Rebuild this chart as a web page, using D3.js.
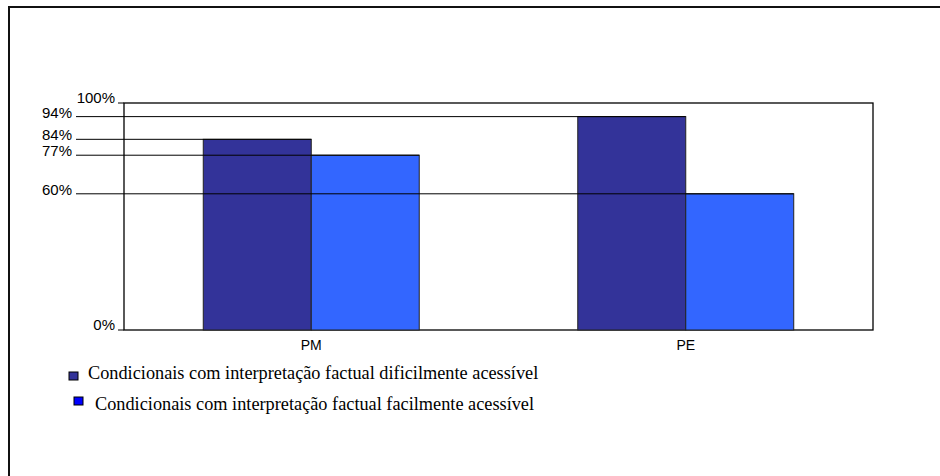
<!DOCTYPE html>
<html>
<head>
<meta charset="utf-8">
<script src="https://cdn.jsdelivr.net/npm/d3@7"></script>
<style>
  body { margin: 0; background: #fff; }
  svg { display: block; }
</style>
</head>
<body>
<svg class="chart"></svg>
<script>
var categories = ['PM', 'PE'];
var seriesNames = ['Condicionais com interpretação factual dificilmente acessível',
                   'Condicionais com interpretação factual facilmente acessível'];
var dificil = [84, 94];
var facil = [77, 60];
var tickValues = [0, 60, 77, 84, 94, 100];

var barColors = ['#333399', '#3366ff'];
var legendColors = ['#333399', '#0000ff'];

var svg = d3.select('.chart')
            .attr('width', 940)
            .attr('height', 476);

// outer frame (top and left only)
svg.append('line').attr('x1', 9).attr('x2', 940).attr('y1', 7).attr('y2', 7)
   .attr('stroke', '#111').attr('stroke-width', 2);
svg.append('line').attr('x1', 9).attr('x2', 9).attr('y1', 6).attr('y2', 476)
   .attr('stroke', '#111').attr('stroke-width', 2);

var plotLeft = 124, plotRight = 873, plotTop = 103, plotBottom = 330;

var xScale = d3.scaleBand()
               .domain(categories)
               .range([plotLeft, plotRight]);

var x1 = d3.scaleBand()
           .domain([0, 1])
           .range([0, xScale.bandwidth()])
           .paddingOuter(0.734);

var yScale = d3.scaleLinear()
               .domain([0, 100])
               .range([plotBottom, plotTop]);

var rows = categories.map(function (c, i) {
    return {cat: c, values: [dificil[i], facil[i]]};
});

// plot box
svg.append('rect')
   .attr('x', plotLeft).attr('y', plotTop)
   .attr('width', plotRight - plotLeft).attr('height', plotBottom - plotTop)
   .attr('fill', 'none').attr('stroke', '#000').attr('stroke-width', 1.3);

// bars
var bars = [];
rows.forEach(function (r) {
    r.values.forEach(function (v, s) {
        bars.push({cat: r.cat, s: s, v: v});
    });
});

svg.selectAll('.bar').data(bars)
   .enter()
   .append('rect')
   .attr('class', 'bar')
   .attr('x', d => xScale(d.cat) + x1(d.s))
   .attr('y', d => yScale(d.v))
   .attr('width', x1.bandwidth())
   .attr('height', d => plotBottom - yScale(d.v))
   .attr('fill', d => barColors[d.s])
   .attr('stroke', '#222')
   .attr('stroke-width', 1);

// tick labels + reference lines
var tickG = svg.append('g')
               .attr('font-family', 'Liberation Sans, Arial, sans-serif')
               .attr('font-size', 15)
               .attr('fill', '#000');

tickValues.forEach(function (t) {
    var y = yScale(t);
    var bar = bars.find(b => b.v === t);
    if (bar) {
        var xEnd = xScale(bar.cat) + x1(bar.s) + x1.bandwidth();
        tickG.append('line')
             .attr('x1', 76).attr('x2', xEnd)
             .attr('y1', y).attr('y2', y)
             .attr('stroke', '#000').attr('stroke-width', 1);
        tickG.append('text')
             .attr('x', 72).attr('y', y + 1)
             .attr('text-anchor', 'end')
             .text(t + '%');
    } else {
        tickG.append('line')
             .attr('x1', 118).attr('x2', plotLeft)
             .attr('y1', y).attr('y2', y)
             .attr('stroke', '#000').attr('stroke-width', 1);
        tickG.append('text')
             .attr('x', 115).attr('y', y)
             .attr('text-anchor', 'end')
             .text(t + '%');
    }
});

// category labels
svg.selectAll('.cat').data(categories)
   .enter()
   .append('text')
   .attr('class', 'cat')
   .attr('x', d => xScale(d) + xScale.bandwidth() / 2)
   .attr('y', 350)
   .attr('text-anchor', 'middle')
   .attr('font-family', 'Liberation Sans, Arial, sans-serif')
   .attr('font-size', 14)
   .text(d => d);

// legend
var legendPos = [{mx: 69, my: 372, tx: 88, ty: 379}, {mx: 74, my: 397, tx: 95, ty: 410}];
var legend = svg.append('g').attr('id', 'legend');
seriesNames.forEach(function (name, i) {
    var p = legendPos[i];
    legend.append('rect')
          .attr('x', p.mx).attr('y', p.my)
          .attr('width', 9).attr('height', 8)
          .attr('fill', legendColors[i])
          .attr('stroke', '#000').attr('stroke-width', 1);
    legend.append('text')
          .attr('x', p.tx).attr('y', p.ty)
          .attr('font-family', 'Liberation Serif, Times New Roman, serif')
          .attr('font-size', 18.3)
          .text(name);
});
</script>
</body>
</html>
